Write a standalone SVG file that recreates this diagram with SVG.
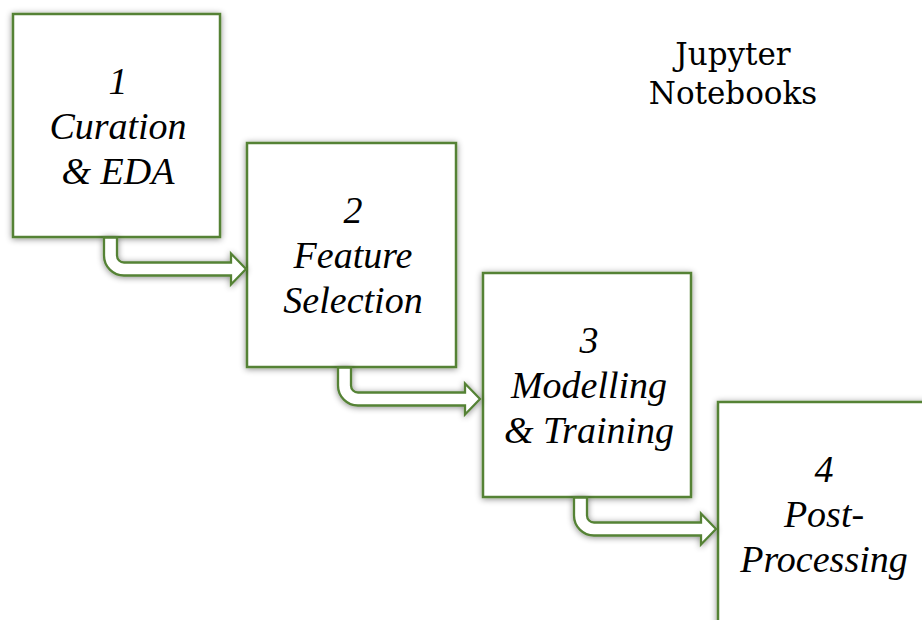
<svg xmlns="http://www.w3.org/2000/svg" width="922" height="620" viewBox="0 0 922 620">
<defs>
<filter id="sh" x="-20%" y="-20%" width="140%" height="140%">
<feDropShadow dx="0" dy="1" stdDeviation="3" flood-color="#000" flood-opacity="0.45"/>
</filter>
<path id="arr" d="M104,0 V18 A7,7 0 0 0 111,25 H218 V16 L233,31.5 L218,47 V38 H111 A20,20 0 0 1 91,18 V0 Z"/>
</defs>
<style>
.box{fill:#fff;stroke:#548235;stroke-width:2.5;filter:url(#sh)}
.arrow{fill:#fff;stroke:#548235;stroke-width:2.3;filter:url(#sh)}
.lbl{font-family:"Liberation Serif","Times New Roman",serif;font-style:italic;font-size:38px;fill:#000;text-anchor:middle}
.title{font-family:"DejaVu Serif","Liberation Serif",serif;font-size:31px;fill:#000;text-anchor:middle}
</style>
<rect width="922" height="620" fill="#fff"/>
<g id="node1">
<rect class="box" x="13" y="14" width="207" height="223"/>
<text class="lbl" x="118" y="94">1</text>
<text class="lbl" x="118" y="139">Curation</text>
<text class="lbl" x="118" y="184">&amp; EDA</text>
</g>
<g id="node2">
<rect class="box" x="247" y="143" width="209" height="224"/>
<text class="lbl" x="353" y="223">2</text>
<text class="lbl" x="353" y="268">Feature</text>
<text class="lbl" x="353" y="313">Selection</text>
</g>
<g id="node3">
<rect class="box" x="483" y="273" width="208" height="224"/>
<text class="lbl" x="589" y="353">3</text>
<text class="lbl" x="589" y="398">Modelling</text>
<text class="lbl" x="589" y="443">&amp; Training</text>
</g>
<g id="node4">
<rect class="box" x="718" y="402" width="210" height="230"/>
<text class="lbl" x="824" y="482">4</text>
<text class="lbl" x="824" y="527">Post-</text>
<text class="lbl" x="824" y="572">Processing</text>
</g>
<g id="connectors">
<use href="#arr" class="arrow" transform="translate(13,237.5)"/>
<use href="#arr" class="arrow" transform="translate(247,367.5)"/>
<use href="#arr" class="arrow" transform="translate(483,497.5)"/>
</g>
<g id="title">
<text class="title" x="733" y="65">Jupyter</text>
<text class="title" x="733" y="104">Notebooks</text>
</g>
</svg>
